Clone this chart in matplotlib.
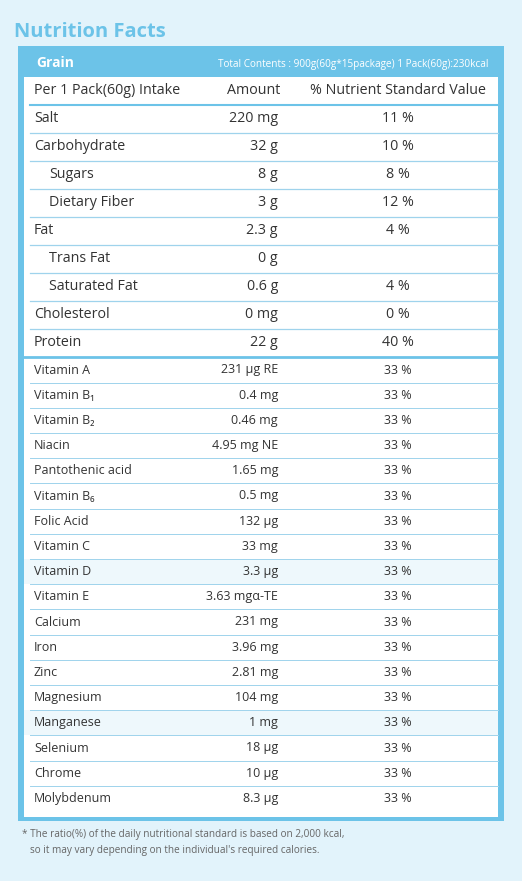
import matplotlib
matplotlib.use("Agg")
import matplotlib.pyplot as plt
from matplotlib.patches import Rectangle

plt.rcParams["font.family"] = ["Open Sans", "DejaVu Sans"]

BG = "#e2f3fb"
BLUE = "#6cc3e8"
LINE = "#9fd3ec"
TXT = "#333333"

top_names = ["Salt", "Carbohydrate", "Sugars", "Dietary Fiber", "Fat", "Trans Fat",
             "Saturated Fat", "Cholesterol", "Protein"]
top_indent = [False, False, True, True, False, True, True, False, False]
top_amount = ["220 mg", "32 g", "8 g", "3 g", "2.3 g", "0 g", "0.6 g", "0 mg", "22 g"]
top_pct = ["11 %", "10 %", "8 %", "12 %", "4 %", "", "4 %", "0 %", "40 %"]

vit_names = ["Vitamin A", "Vitamin B\u2081", "Vitamin B\u2082", "Niacin", "Pantothenic acid",
             "Vitamin B\u2086", "Folic Acid", "Vitamin C", "Vitamin D", "Vitamin E", "Calcium",
             "Iron", "Zinc", "Magnesium", "Manganese", "Selenium", "Chrome", "Molybdenum"]
vit_amount = ["231 \u03bcg RE", "0.4 mg", "0.46 mg", "4.95 mg NE", "1.65 mg", "0.5 mg",
              "132 \u03bcg", "33 mg", "3.3 \u03bcg", "3.63 mg\u03b1-TE", "231 mg", "3.96 mg",
              "2.81 mg", "104 mg", "1 mg", "18 \u03bcg", "10 \u03bcg", "8.3 \u03bcg"]
vit_pct = ["33 %"] * 18
vit_shaded = ["Vitamin D", "Manganese"]

W, H = 522, 881
fig = plt.figure(figsize=(W / 100, H / 100), dpi=100, facecolor=BG)
ax = fig.add_axes([0, 0, 1, 1])
ax.set_xlim(0, W)
ax.set_ylim(H, 0)
ax.axis("off")

ax.text(14, 32, "Nutrition Facts", color=BLUE, fontsize=14.5, fontweight="bold", va="center")

# frame
ax.add_patch(Rectangle((18, 46), 486, 775, facecolor=BLUE, edgecolor="none"))
ax.add_patch(Rectangle((24, 50), 474, 767, facecolor="white", edgecolor="none"))
ax.add_patch(Rectangle((24, 50), 474, 27, facecolor=BLUE, edgecolor="none"))
ax.text(36, 63, "Grain", color="white", fontsize=10, fontweight="bold", va="center")
ax.text(489, 64, "Total Contents : 900g(60g*15package) 1 Pack(60g):230kcal",
        color="white", fontsize=7.2, va="center", ha="right")

ax.text(34, 91, "Per 1 Pack(60g) Intake", color=TXT, fontsize=10.3, va="center")
ax.text(280, 91, "Amount", color=TXT, fontsize=10.3, va="center", ha="right")
ax.text(398, 91, "% Nutrient Standard Value", color=TXT, fontsize=10.3, va="center", ha="center")
ax.plot([30, 498], [104.5, 104.5], color=BLUE, lw=1.5)

y0, dy = 119, 28
for i, (n, ind, a, p) in enumerate(zip(top_names, top_indent, top_amount, top_pct)):
    y = y0 + i * dy
    ax.text(49 if ind else 34, y, n, color=TXT, fontsize=10.3, va="center")
    ax.text(278, y, a, color=TXT, fontsize=10.3, va="center", ha="right")
    ax.text(398, y, p, color=TXT, fontsize=10.3, va="center", ha="center")
    if i < len(top_names) - 1:
        ax.plot([30, 498], [y + dy / 2, y + dy / 2], color=LINE, lw=0.9)
ax.plot([24, 498], [357, 357], color=BLUE, lw=2)

v0, dv = 370, 25.2
for i, (n, a, p) in enumerate(zip(vit_names, vit_amount, vit_pct)):
    y = v0 + i * dv
    if n in vit_shaded:
        ax.add_patch(Rectangle((24, y - dv / 2), 474, dv, facecolor="#eef8fc", edgecolor="none"))
    ax.text(34, y, n, color=TXT, fontsize=9, va="center")
    ax.text(278, y, a, color=TXT, fontsize=9, va="center", ha="right")
    ax.text(398, y, p, color=TXT, fontsize=9, va="center", ha="center")
    if i < len(vit_names) - 1:
        ax.plot([30, 498], [y + dv / 2, y + dv / 2], color=LINE, lw=0.7)

ax.text(22, 835, "* The ratio(%) of the daily nutritional standard is based on 2,000 kcal,",
        color="#666666", fontsize=7.2, va="center")
ax.text(30, 851, "so it may vary depending on the individual's required calories.",
        color="#666666", fontsize=7.2, va="center")

fig.savefig("out.png", dpi=100, facecolor=BG)
